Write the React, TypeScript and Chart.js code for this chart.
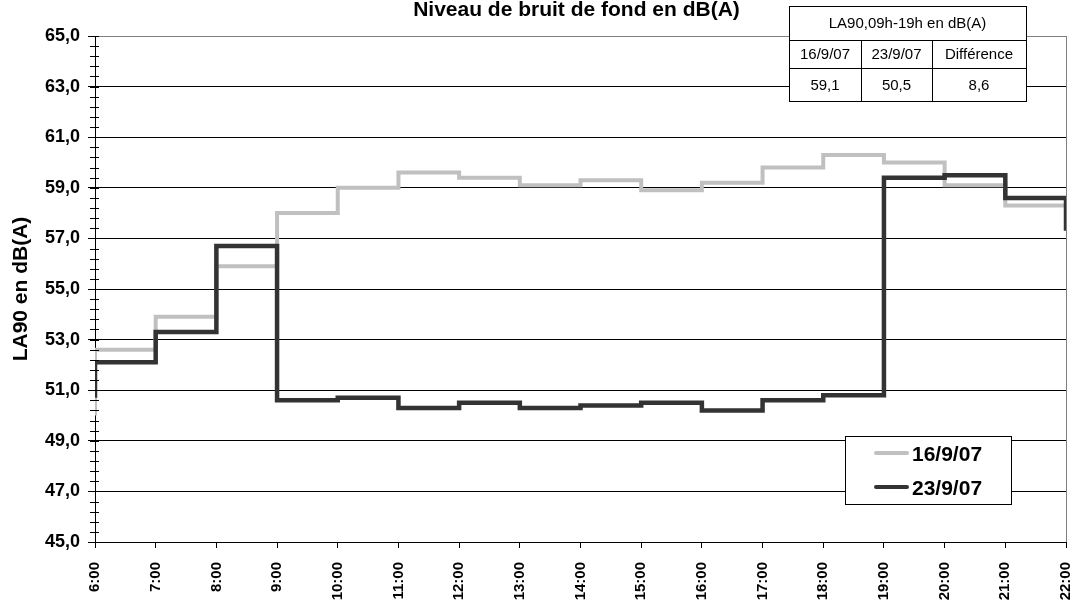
import React, { useEffect, useRef } from 'react';
import { Chart, registerables } from 'chart.js';

Chart.register(...registerables);

// ---- data ----
const HOURS = [6, 7, 8, 9, 10, 11, 12, 13, 14, 15, 16, 17, 18, 19, 20, 21, 22];
const HOUR_LABELS = ['6:00', '7:00', '8:00', '9:00', '10:00', '11:00', '12:00', '13:00', '14:00', '15:00', '16:00', '17:00', '18:00', '19:00', '20:00', '21:00', '22:00'];

const SERIES_1_LABEL = '16/9/07';
const SERIES_1_START = 50.0;
const SERIES_1_VALUES = [52.6, 53.9, 55.9, 58.0, 59.0, 59.6, 59.4, 59.1, 59.3, 58.9, 59.2, 59.8, 60.3, 60.0, 59.1, 58.3];

const SERIES_2_LABEL = '23/9/07';
const SERIES_2_START = 50.7;
const SERIES_2_VALUES = [52.1, 53.3, 56.7, 50.6, 50.7, 50.3, 50.5, 50.3, 50.4, 50.5, 50.2, 50.6, 50.8, 59.4, 59.5, 58.6];
const SERIES_2_END = 57.3;

const Y_MIN = 45;
const Y_MAX = 65;
const Y_STEP = 2;
const Y_MINOR_STEP = 0.4;

const TITLE = 'Niveau de bruit de fond en dB(A)';
const Y_TITLE = 'LA90 en dB(A)';
const TABLE_HEADER = 'LA90,09h-19h en dB(A)';
const TABLE_COLUMNS = ['16/9/07', '23/9/07', 'Différence'];
const TABLE_VALUES = ['59,1', '50,5', '8,6'];

const COLOR_1 = '#c0c0c0';
const COLOR_2 = '#333333';
const FONT = '"Liberation Sans", Arial, sans-serif';

function buildSteps(start: number, values: number[], end?: number) {
  const pts = [{ x: HOURS[0], y: start }];
  values.forEach((v, i) => pts.push({ x: HOURS[i + 1], y: v }));
  if (end !== undefined) pts.push({ x: HOURS[HOURS.length - 1], y: end });
  return pts;
}

const decorPlugin = {
  id: 'decor',
  afterDraw(chart: any) {
    const ctx = chart.ctx as CanvasRenderingContext2D;
    const ca = chart.chartArea;
    const yScale = chart.scales.y;
    ctx.save();

    // minor ticks on y axis
    ctx.strokeStyle = '#000';
    ctx.lineWidth = 1;
    const n = Math.round((Y_MAX - Y_MIN) / Y_MINOR_STEP);
    for (let k = 0; k <= n; k++) {
      const v = Y_MIN + k * Y_MINOR_STEP;
      const py = Math.round(yScale.getPixelForValue(v)) + 0.5;
      ctx.beginPath();
      ctx.moveTo(ca.left - 5, py);
      ctx.lineTo(ca.left + 4, py);
      ctx.stroke();
    }

    // title
    ctx.fillStyle = '#000';
    ctx.font = `bold 21px ${FONT}`;
    ctx.textAlign = 'center';
    ctx.textBaseline = 'alphabetic';
    ctx.fillText(TITLE, (ca.left + ca.right) / 2 - 4, 16);

    // table
    const tx0 = 789, tx1 = 1026;
    const ty0 = 6, ty1 = 40, ty2 = 68, ty3 = 101;
    const cols = [789, 861, 932, 1026];
    ctx.fillStyle = '#fff';
    ctx.fillRect(tx0, ty0, tx1 - tx0, ty3 - ty0);
    ctx.strokeStyle = '#000';
    ctx.lineWidth = 1;
    ctx.strokeRect(tx0 + 0.5, ty0 + 0.5, tx1 - tx0, ty3 - ty0);
    ctx.beginPath();
    ctx.moveTo(tx0, ty1 + 0.5); ctx.lineTo(tx1, ty1 + 0.5);
    ctx.moveTo(tx0, ty2 + 0.5); ctx.lineTo(tx1, ty2 + 0.5);
    ctx.moveTo(cols[1] + 0.5, ty1); ctx.lineTo(cols[1] + 0.5, ty3);
    ctx.moveTo(cols[2] + 0.5, ty1); ctx.lineTo(cols[2] + 0.5, ty3);
    ctx.stroke();
    ctx.fillStyle = '#000';
    ctx.font = `15px ${FONT}`;
    ctx.textAlign = 'center';
    ctx.textBaseline = 'middle';
    ctx.fillText(TABLE_HEADER, (tx0 + tx1) / 2, (ty0 + ty1) / 2 + 1);
    for (let i = 0; i < 3; i++) {
      const cx = (cols[i] + cols[i + 1]) / 2;
      ctx.fillText(TABLE_COLUMNS[i], cx, (ty1 + ty2) / 2 + 1);
      ctx.fillText(TABLE_VALUES[i], cx, (ty2 + ty3) / 2 + 1);
    }

    // legend
    const lx0 = 845, lx1 = 1011, ly0 = 436, ly1 = 504;
    ctx.fillStyle = '#fff';
    ctx.fillRect(lx0, ly0, lx1 - lx0, ly1 - ly0);
    ctx.strokeStyle = '#000';
    ctx.strokeRect(lx0 + 0.5, ly0 + 0.5, lx1 - lx0, ly1 - ly0);
    const items = chart.data.datasets.map((d: any) => ({ label: d.label, color: d.borderColor }));
    const order = [SERIES_1_LABEL, SERIES_2_LABEL];
    const rowsY = [453, 487];
    ctx.font = `bold 21px ${FONT}`;
    ctx.textAlign = 'left';
    ctx.textBaseline = 'middle';
    order.forEach((lab, i) => {
      const it = items.find((x: any) => x.label === lab);
      ctx.strokeStyle = it.color;
      ctx.lineWidth = 4;
      ctx.lineCap = 'round';
      ctx.beginPath();
      ctx.moveTo(876, rowsY[i]);
      ctx.lineTo(907, rowsY[i]);
      ctx.stroke();
      ctx.fillStyle = '#000';
      ctx.fillText(lab, 912, rowsY[i] + 2);
    });
    ctx.restore();
  },
};

export default function App() {
  const ref = useRef<HTMLCanvasElement | null>(null);

  useEffect(() => {
    if (!ref.current) return;
    const chart = new Chart(ref.current, {
      type: 'line',
      data: {
        datasets: [
          {
            label: SERIES_2_LABEL,
            data: buildSteps(SERIES_2_START, SERIES_2_VALUES, SERIES_2_END),
            borderColor: COLOR_2,
            backgroundColor: COLOR_2,
            borderWidth: 4.5,
            stepped: 'after',
            pointRadius: 0,
            fill: false,
            borderJoinStyle: 'miter',
            borderCapStyle: 'butt',
          },
          {
            label: SERIES_1_LABEL,
            data: buildSteps(SERIES_1_START, SERIES_1_VALUES),
            borderColor: COLOR_1,
            backgroundColor: COLOR_1,
            borderWidth: 4,
            stepped: 'after',
            pointRadius: 0,
            fill: false,
            borderJoinStyle: 'miter',
            borderCapStyle: 'butt',
          },
        ],
      },
      options: {
        animation: false,
        responsive: false,
        events: [],
        layout: { padding: { top: 36, right: 13, left: 0, bottom: 0 } },
        plugins: {
          legend: { display: false },
          title: { display: false },
          tooltip: { enabled: false },
        },
        scales: {
          x: {
            type: 'linear',
            min: HOURS[0],
            max: HOURS[HOURS.length - 1],
            afterFit: (s: any) => { s.height = 66; s.paddingLeft = 0; s.paddingRight = 0; },
            afterBuildTicks: (s: any) => { s.ticks = HOURS.map((h) => ({ value: h })); },
            ticks: {
              stepSize: 1,
              autoSkip: false,
              minRotation: 90,
              maxRotation: 90,
              padding: 14,
              color: '#000',
              font: { family: FONT, size: 15, weight: 'bold' },
              callback: (v: any) => HOUR_LABELS[HOURS.indexOf(Number(v))] ?? '',
            },
            grid: {
              color: (c: any) => (c.tick && c.tick.value === HOURS[HOURS.length - 1] ? '#808080' : 'rgba(0,0,0,0)'),
              tickColor: '#000',
              tickLength: 6,
              lineWidth: 1,
            },
            border: { display: true, color: '#000', width: 1 },
          },
          y: {
            type: 'linear',
            min: Y_MIN,
            max: Y_MAX,
            afterFit: (s: any) => { s.width = 95; s.paddingTop = 0; s.paddingBottom = 0; },
            ticks: {
              stepSize: Y_STEP,
              padding: 8,
              color: '#000',
              font: { family: FONT, size: 18, weight: 'bold' },
              callback: (v: any) => Number(v).toFixed(1).replace('.', ','),
            },
            grid: {
              color: (c: any) => (c.tick && c.tick.value === Y_MAX ? '#808080' : '#000'),
              tickColor: '#000',
              tickLength: 7,
              lineWidth: 1,
            },
            border: { display: true, color: '#000', width: 1 },
            title: {
              display: true,
              text: Y_TITLE,
              color: '#000',
              font: { family: FONT, size: 21, weight: 'bold' },
              padding: { top: 9, bottom: 0 },
            },
          },
        },
      },
      plugins: [decorPlugin],
    });
    return () => chart.destroy();
  }, []);

  return (
    <div style={{ position: 'absolute', left: 0, top: 0, width: 1079, height: 608, background: '#fff' }}>
      <canvas ref={ref} width={1079} height={608} style={{ display: 'block', width: 1079, height: 608 }} />
    </div>
  );
}
